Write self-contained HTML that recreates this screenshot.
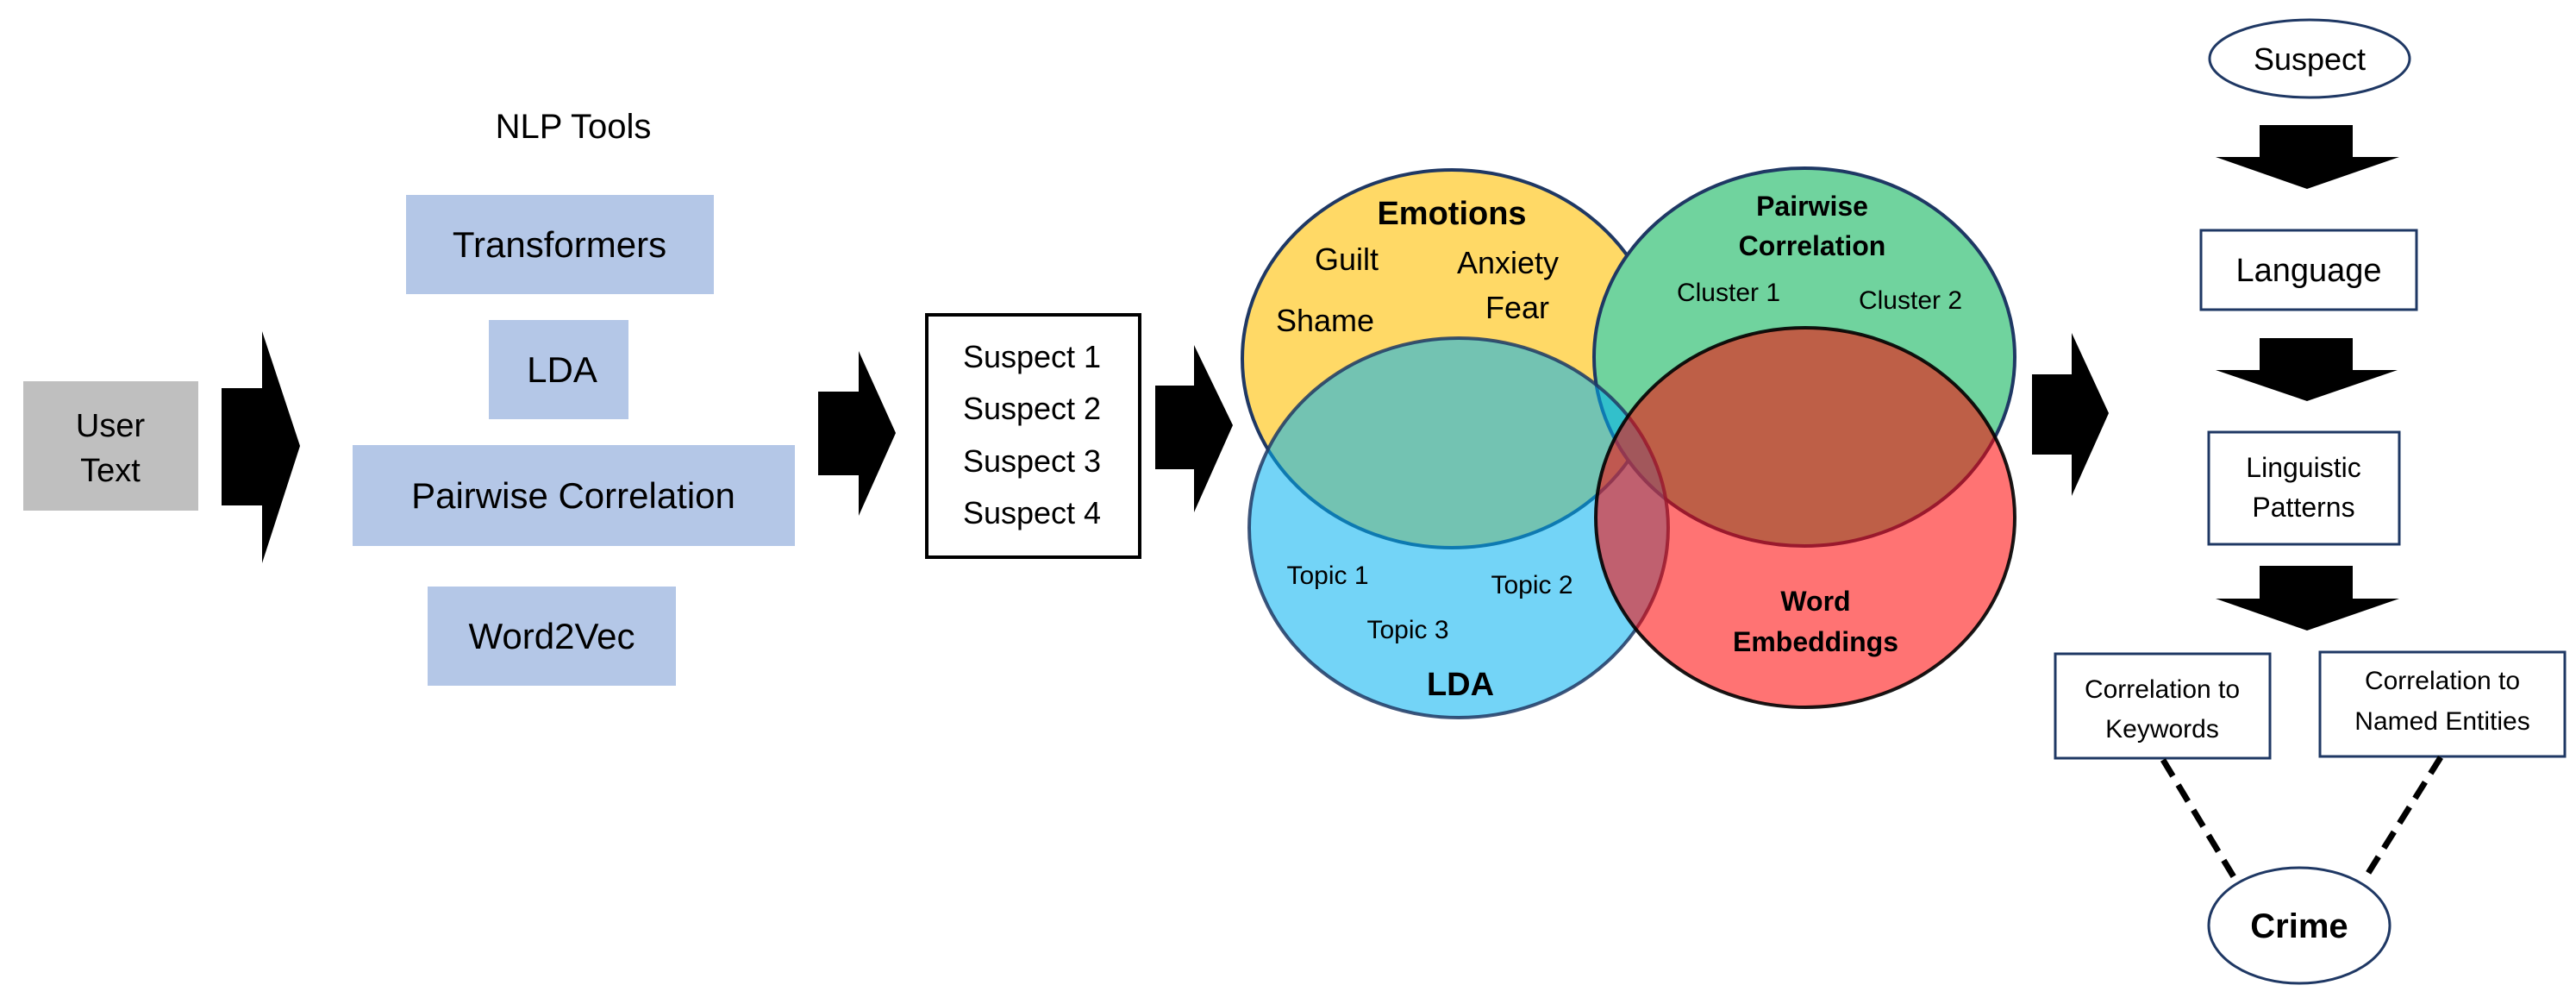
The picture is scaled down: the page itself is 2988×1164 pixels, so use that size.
<!DOCTYPE html>
<html><head><meta charset="utf-8"><style>
html,body{margin:0;padding:0;background:#fff;}
svg{display:block;}
text{font-family:"Liberation Sans",Arial,sans-serif;fill:#000;}
</style></head><body>
<svg width="2988" height="1164" viewBox="0 0 2988 1164" xmlns="http://www.w3.org/2000/svg">
<rect width="2988" height="1164" fill="#fff"/>
<!-- User Text -->
<rect x="27" y="442" width="203" height="150" fill="#bfbfbf"/>
<text x="128" y="506" font-size="38" text-anchor="middle">User</text>
<text x="128" y="558" font-size="38" text-anchor="middle">Text</text>
<!-- Arrow 1 -->
<polygon points="257,450 304,450 304,384 348,517 304,653 304,586 257,586" fill="#000"/>
<!-- NLP Tools -->
<text x="665" y="160" font-size="40" text-anchor="middle">NLP Tools</text>
<rect x="471" y="226" width="357" height="115" fill="#b4c7e7"/>
<text x="649" y="298" font-size="42" text-anchor="middle">Transformers</text>
<rect x="567" y="371" width="162" height="115" fill="#b4c7e7"/>
<text x="652" y="443" font-size="42" text-anchor="middle">LDA</text>
<rect x="409" y="516" width="513" height="117" fill="#b4c7e7"/>
<text x="665" y="589" font-size="42" text-anchor="middle">Pairwise Correlation</text>
<rect x="496" y="680" width="288" height="115" fill="#b4c7e7"/>
<text x="640" y="752" font-size="42" text-anchor="middle">Word2Vec</text>
<!-- Arrow 2 -->
<polygon points="949,454 996,454 996,407 1039,502 996,598 996,551 949,551" fill="#000"/>
<!-- Suspects -->
<rect x="1075" y="365" width="247" height="281" fill="#fff" stroke="#000" stroke-width="4"/>
<text x="1197" y="426" font-size="36" text-anchor="middle">Suspect 1</text>
<text x="1197" y="486" font-size="36" text-anchor="middle">Suspect 2</text>
<text x="1197" y="547" font-size="36" text-anchor="middle">Suspect 3</text>
<text x="1197" y="607" font-size="36" text-anchor="middle">Suspect 4</text>
<!-- Arrow 3 -->
<polygon points="1340,447 1385,447 1385,400 1430,493 1385,594 1385,544 1340,544" fill="#000"/>
<!-- Venn -->
<ellipse cx="1684" cy="416" rx="243" ry="219" fill="#ffd966" stroke="#1f3864" stroke-width="4"/>
<ellipse cx="2093" cy="414" rx="244" ry="219" fill="#70d39e" stroke="#1f3864" stroke-width="4"/>
<ellipse cx="1692" cy="612" rx="243" ry="220" fill="#00b0f0" fill-opacity="0.55" stroke="#1f3864" stroke-width="4" stroke-opacity="0.85"/>
<ellipse cx="2094" cy="600" rx="243" ry="220" fill="#ff0000" fill-opacity="0.55" stroke="#000" stroke-width="4" stroke-opacity="0.9"/>
<text x="1684" y="260" font-size="38" font-weight="bold" text-anchor="middle">Emotions</text>
<text x="1562" y="313" font-size="36" text-anchor="middle">Guilt</text>
<text x="1749" y="317" font-size="36" text-anchor="middle">Anxiety</text>
<text x="1537" y="384" font-size="36" text-anchor="middle">Shame</text>
<text x="1760" y="369" font-size="36" text-anchor="middle">Fear</text>
<text x="2102" y="250" font-size="32" font-weight="bold" text-anchor="middle">Pairwise</text>
<text x="2102" y="296" font-size="32" font-weight="bold" text-anchor="middle">Correlation</text>
<text x="2005" y="349" font-size="30" text-anchor="middle">Cluster 1</text>
<text x="2216" y="358" font-size="30" text-anchor="middle">Cluster 2</text>
<text x="1540" y="677" font-size="30" text-anchor="middle">Topic 1</text>
<text x="1777" y="688" font-size="30" text-anchor="middle">Topic 2</text>
<text x="1633" y="740" font-size="30" text-anchor="middle">Topic 3</text>
<text x="1694" y="806" font-size="38" font-weight="bold" text-anchor="middle">LDA</text>
<text x="2106" y="708" font-size="32" font-weight="bold" text-anchor="middle">Word</text>
<text x="2106" y="755" font-size="32" font-weight="bold" text-anchor="middle">Embeddings</text>
<!-- Arrow 4 -->
<polygon points="2357,434 2403,434 2403,386 2446,479 2403,575 2403,527 2357,527" fill="#000"/>
<!-- Right column -->
<ellipse cx="2679" cy="68" rx="116" ry="45" fill="#fff" stroke="#1f3864" stroke-width="3"/>
<text x="2679" y="81" font-size="36" text-anchor="middle">Suspect</text>
<polygon points="2621,145 2729,145 2729,182 2783,182 2676,219 2570,182 2621,182" fill="#000"/>
<rect x="2553" y="267" width="250" height="92" fill="#fff" stroke="#1f3864" stroke-width="3"/>
<text x="2678" y="326" font-size="38" text-anchor="middle">Language</text>
<polygon points="2621,392 2729,392 2729,429 2781,429 2676,465 2570,429 2621,429" fill="#000"/>
<rect x="2562" y="501" width="221" height="130" fill="#fff" stroke="#1f3864" stroke-width="3"/>
<text x="2672" y="553" font-size="32" text-anchor="middle">Linguistic</text>
<text x="2672" y="599" font-size="32" text-anchor="middle">Patterns</text>
<polygon points="2621,656 2729,656 2729,694 2783,694 2676,731 2570,694 2621,694" fill="#000"/>
<rect x="2384" y="758" width="249" height="121" fill="#fff" stroke="#1f3864" stroke-width="3"/>
<text x="2508" y="809" font-size="30" text-anchor="middle">Correlation to</text>
<text x="2508" y="855" font-size="30" text-anchor="middle">Keywords</text>
<rect x="2691" y="756" width="284" height="121" fill="#fff" stroke="#1f3864" stroke-width="3"/>
<text x="2833" y="799" font-size="30" text-anchor="middle">Correlation to</text>
<text x="2833" y="846" font-size="30" text-anchor="middle">Named Entities</text>
<line x1="2509" y1="881" x2="2593" y2="1020" stroke="#000" stroke-width="7" stroke-dasharray="22,12"/>
<line x1="2831" y1="878" x2="2744" y2="1017" stroke="#000" stroke-width="7" stroke-dasharray="22,12"/>
<ellipse cx="2667" cy="1073" rx="105" ry="67" fill="#fff" stroke="#1f3864" stroke-width="3"/>
<text x="2667" y="1087" font-size="40" font-weight="bold" text-anchor="middle">Crime</text>
</svg>
</body></html>
